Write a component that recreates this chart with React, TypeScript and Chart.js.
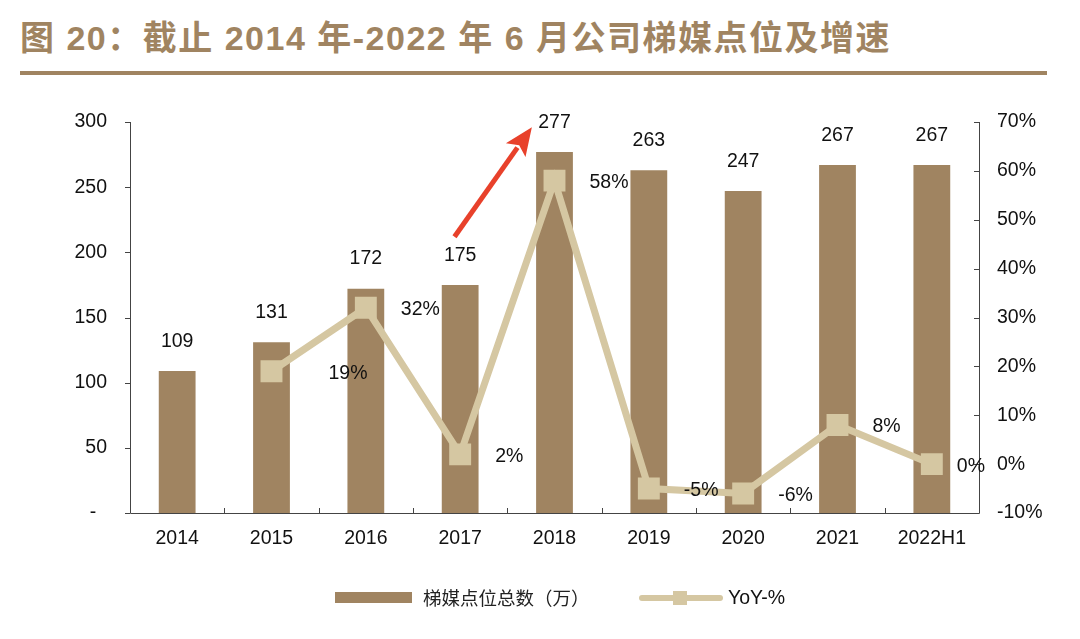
import React, { useEffect, useRef } from "react";
import { Chart, registerables } from "chart.js";

Chart.register(...registerables);

const categories = ["2014", "2015", "2016", "2017", "2018", "2019", "2020", "2021", "2022H1"];
const pointCounts = [109, 131, 172, 175, 277, 263, 247, 267, 267];
const yoyPct = [null, 19, 32, 2, 58, -5, -6, 8, 0];
const barLabel = "梯媒点位总数（万）";
const lineLabel = "YoY-%";
const titleText = "图 20：截止 2014 年-2022 年 6 月公司梯媒点位及增速";
// arrow annotation anchors (category index, left-axis value)
const arrowFrom = [2.94, 212];
const arrowTo = [3.76, 296];

const BAR_COLOR = "#A08461";
const LINE_COLOR = "#D5C7A2";
const TEXT_COLOR = "#111111";
const FONT = "'Liberation Sans', Arial, sans-serif";
const CJK_FONT = "'Noto Sans CJK SC', sans-serif";
const FS = 19.5;

const overlayPlugin = {
  id: "overlay",
  afterDatasetsDraw(chart: any) {
    const ctx = chart.ctx;
    const x = chart.scales.x;
    const y = chart.scales.y;
    const y1 = chart.scales.y1;
    const area = chart.chartArea;
    ctx.save();
    // axes lines
    ctx.strokeStyle = "#444";
    ctx.lineWidth = 1;
    ctx.beginPath();
    ctx.moveTo(area.left + 0.5, area.top);
    ctx.lineTo(area.left + 0.5, area.bottom + 0.5);
    ctx.lineTo(area.right + 0.5, area.bottom + 0.5);
    ctx.lineTo(area.right + 0.5, area.top);
    ctx.stroke();
    ctx.beginPath();
    y.ticks.forEach((t: any) => {
      const py = Math.round(y.getPixelForValue(t.value)) + 0.5;
      ctx.moveTo(area.left - 5, py);
      ctx.lineTo(area.left, py);
    });
    y1.ticks.forEach((t: any) => {
      const py = Math.round(y1.getPixelForValue(t.value)) + 0.5;
      ctx.moveTo(area.right - 5, py);
      ctx.lineTo(area.right, py);
    });
    for (let i = 1; i < categories.length; i++) {
      const px = Math.round((x.getPixelForValue(i - 1) + x.getPixelForValue(i)) / 2) + 0.5;
      ctx.moveTo(px, area.bottom - 5);
      ctx.lineTo(px, area.bottom);
    }
    ctx.stroke();

    // bar value labels
    ctx.fillStyle = TEXT_COLOR;
    ctx.font = `${FS}px ${FONT}`;
    ctx.textAlign = "center";
    ctx.textBaseline = "bottom";
    const barMeta = chart.getDatasetMeta(1);
    barMeta.data.forEach((el: any, i: number) => {
      ctx.fillText(String(pointCounts[i]), el.x, el.y - 20);
    });
    // line labels
    ctx.textAlign = "left";
    ctx.textBaseline = "middle";
    const lineMeta = chart.getDatasetMeta(0);
    lineMeta.data.forEach((el: any, i: number) => {
      const v = yoyPct[i];
      if (v === null || v === undefined) return;
      const dx = i === 1 ? 57 : i === categories.length - 1 ? 25 : 35;
      ctx.fillText(`${v}%`, el.x + dx, el.y + 2);
    });

    // red arrow annotation
    const sx = x.getPixelForValue(arrowFrom[0]);
    const sy = y.getPixelForValue(arrowFrom[1]);
    const ex = x.getPixelForValue(arrowTo[0]);
    const ey = y.getPixelForValue(arrowTo[1]);
    const ang = Math.atan2(ey - sy, ex - sx);
    const headLen = 28;
    const headW = 12;
    const bx = ex - headLen * Math.cos(ang);
    const by = ey - headLen * Math.sin(ang);
    ctx.strokeStyle = "#E8412B";
    ctx.fillStyle = "#E8412B";
    ctx.lineWidth = 5;
    ctx.beginPath();
    ctx.moveTo(sx, sy);
    ctx.lineTo(bx + 3 * Math.cos(ang), by + 3 * Math.sin(ang));
    ctx.stroke();
    ctx.beginPath();
    ctx.moveTo(ex, ey);
    ctx.lineTo(bx + headW * Math.sin(ang), by - headW * Math.cos(ang));
    ctx.lineTo(bx + 6 * Math.cos(ang), by + 6 * Math.sin(ang));
    ctx.lineTo(bx - headW * Math.sin(ang), by + headW * Math.cos(ang));
    ctx.closePath();
    ctx.fill();

    // legend
    const ly = 598;
    ctx.fillStyle = BAR_COLOR;
    ctx.fillRect(335, ly - 6, 77, 11);
    ctx.fillStyle = "#222";
    ctx.font = `18.5px ${CJK_FONT}`;
    ctx.textAlign = "left";
    ctx.textBaseline = "middle";
    ctx.fillText(barLabel, 423, ly);
    ctx.strokeStyle = LINE_COLOR;
    ctx.lineWidth = 6;
    ctx.lineCap = "round";
    ctx.beginPath();
    ctx.moveTo(642, ly);
    ctx.lineTo(720, ly);
    ctx.stroke();
    ctx.fillStyle = LINE_COLOR;
    ctx.fillRect(673, ly - 7, 14, 14);
    ctx.fillStyle = TEXT_COLOR;
    ctx.font = `${FS}px ${FONT}`;
    ctx.fillText(lineLabel, 728, ly + 1);
    ctx.restore();
  },
};

export default function App() {
  const ref = useRef<HTMLCanvasElement | null>(null);
  useEffect(() => {
    if (!ref.current) return;
    const chart = new Chart(ref.current, {
      type: "bar",
      data: {
        labels: categories,
        datasets: [
          {
            type: "line",
            label: lineLabel,
            data: yoyPct as any,
            yAxisID: "y1",
            borderColor: LINE_COLOR,
            backgroundColor: LINE_COLOR,
            borderWidth: 7,
            pointStyle: "rect",
            pointRadius: 15.5,
            pointBorderWidth: 0,
            pointBackgroundColor: LINE_COLOR,
            spanGaps: false,
            order: 0,
          } as any,
          {
            type: "bar",
            label: barLabel,
            data: pointCounts,
            yAxisID: "y",
            backgroundColor: BAR_COLOR,
            barPercentage: 0.39,
            categoryPercentage: 1,
            order: 1,
          },
        ],
      },
      options: {
        responsive: false,
        animation: false,
        layout: { padding: { top: 122, left: 0, right: 0, bottom: 0 } },
        plugins: { legend: { display: false }, tooltip: { enabled: false } },
        scales: {
          x: {
            grid: { display: false, drawTicks: false },
            border: { display: false },
            ticks: { color: TEXT_COLOR, font: { family: FONT, size: FS }, padding: 14, maxRotation: 0 },
            afterFit: (s: any) => { s.height = 126; },
          },
          y: {
            position: "left",
            min: 0,
            max: 300,
            grid: { display: false, drawTicks: false },
            border: { display: false },
            ticks: {
              stepSize: 50,
              color: TEXT_COLOR,
              font: { family: FONT, size: FS },
              padding: 23,
              callback: (v: any) => (v === 0 ? "-  " : String(v)),
            },
            afterFit: (s: any) => { s.width = 130; },
          },
          y1: {
            position: "right",
            min: -10,
            max: 70,
            grid: { display: false, drawTicks: false },
            border: { display: false },
            ticks: {
              stepSize: 10,
              color: TEXT_COLOR,
              font: { family: FONT, size: FS },
              padding: 18,
              callback: (v: any) => `${v}%`,
            },
            afterFit: (s: any) => { s.width = 101; },
          },
        },
      },
      plugins: [overlayPlugin],
    });
    return () => chart.destroy();
  }, []);

  return (
    <div style={{ position: "fixed", left: 0, top: 0, width: 1080, height: 639, background: "#fff" }}>
      <div
        style={{
          position: "absolute",
          left: 20,
          top: 15,
          fontFamily: "'Liberation Sans', " + CJK_FONT,
          fontWeight: 700,
          fontSize: 34,
          letterSpacing: 1.5,
          color: BAR_COLOR,
          whiteSpace: "nowrap",
          lineHeight: "46px",
        }}
      >
        {titleText}
      </div>
      <div style={{ position: "absolute", left: 20, top: 71, width: 1027, height: 4, background: BAR_COLOR }} />
      <canvas ref={ref} width={1080} height={639} style={{ position: "absolute", left: 0, top: 0 }} />
    </div>
  );
}
